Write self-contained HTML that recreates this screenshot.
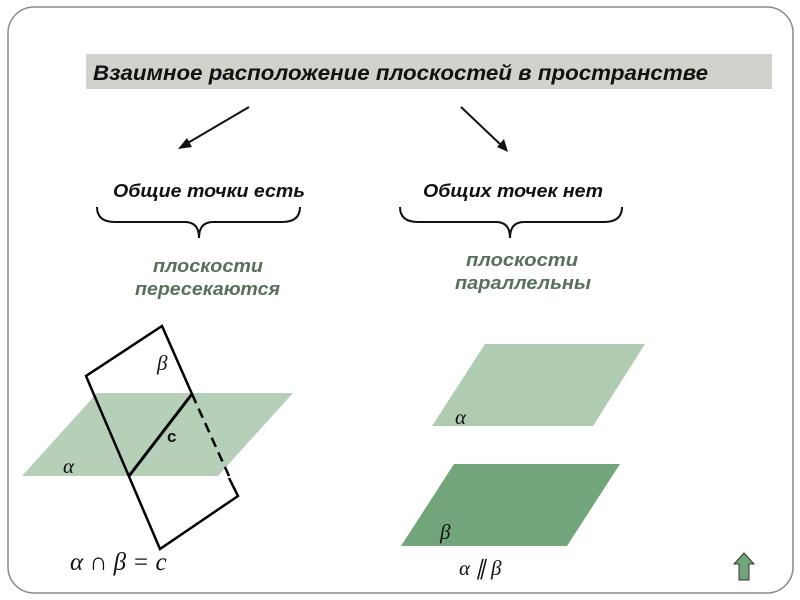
<!DOCTYPE html>
<html><head><meta charset="utf-8"><style>
html,body{margin:0;padding:0;background:#fff;}
svg{display:block;}
</style></head><body>
<svg width="800" height="600" viewBox="0 0 800 600" xmlns="http://www.w3.org/2000/svg">
<rect x="8" y="7" width="785" height="586" rx="26" ry="26" fill="#fff" stroke="#8a8a8a" stroke-width="1.5"/>
<rect x="86" y="54" width="686" height="35" fill="#d2d2cd"/>
<text x="93" y="80" font-family="Liberation Sans, sans-serif" font-size="21" font-weight="bold" font-style="italic" fill="#111" textLength="615" lengthAdjust="spacingAndGlyphs">Взаимное расположение плоскостей в пространстве</text>
<g stroke="#111" stroke-width="2" fill="#111">
<line x1="249" y1="107" x2="186" y2="144"/>
<polygon points="178,149 187,138 192,147" stroke="none"/>
<line x1="461" y1="107" x2="501" y2="145"/>
<polygon points="508,152 497,147 504,139" stroke="none"/>
</g>
<g font-family="Liberation Sans, sans-serif" font-size="18" font-weight="bold" font-style="italic" fill="#111" lengthAdjust="spacingAndGlyphs">
<text x="113" y="197" textLength="192" lengthAdjust="spacingAndGlyphs">Общие точки есть</text>
<text x="423" y="197" textLength="180" lengthAdjust="spacingAndGlyphs">Общих точек нет</text>
</g>
<g fill="none" stroke="#111" stroke-width="2">
<path d="M97,207 Q97,222 115,222 L185,222 Q199,222 199,238 Q199,222 213,222 L282,222 Q300,222 300,207"/>
<path d="M400,207 Q400,222 418,222 L496,222 Q510,222 510,238 Q510,222 524,222 L604,222 Q622,222 622,207"/>
</g>
<g font-family="Liberation Sans, sans-serif" font-size="18" font-weight="bold" font-style="italic" fill="#56705c">
<text x="153" y="272" textLength="110" lengthAdjust="spacingAndGlyphs">плоскости</text>
<text x="135" y="295" textLength="145" lengthAdjust="spacingAndGlyphs">пересекаются</text>
<text x="466" y="266" textLength="112" lengthAdjust="spacingAndGlyphs">плоскости</text>
<text x="455" y="289" textLength="136" lengthAdjust="spacingAndGlyphs">параллельны</text>
</g>
<!-- left figure -->
<polygon points="22,476 97,393 293,393 218,476" fill="#b5cfb8"/>
<g stroke="#000" stroke-width="2.5" fill="none">
<polyline points="192,394 162,326 86,376 160,549 238,496 229,478"/>
<line x1="129" y1="476" x2="192" y2="394" stroke-width="3"/>
<line x1="192" y1="394" x2="229" y2="476" stroke-dasharray="10,6"/>
</g>
<g font-family="Liberation Serif, serif" font-style="italic" font-size="21" fill="#111">
<text x="157" y="370">β</text>
<text x="63" y="473">α</text>
<text x="70" y="570" font-size="25">α ∩ β = c</text>
</g>
<text x="167" y="442" font-family="Liberation Sans, sans-serif" font-size="17" font-weight="bold" fill="#111">c</text>
<!-- right figure -->
<polygon points="432,426 485,344 645,344 593,426" fill="#afcbb1"/>
<polygon points="401,546 454,464 620,464 567,546" fill="#72a579"/>
<g font-family="Liberation Serif, serif" font-style="italic" font-size="21" fill="#111">
<text x="455" y="424">α</text>
<text x="440" y="539">β</text>
<text x="459" y="575">α ∥ β</text>
</g>
<polygon points="744,553 754,564 749,564 749,580 739,580 739,564 734,564" fill="#72a579" stroke="#333" stroke-width="1"/>
</svg>
</body></html>
